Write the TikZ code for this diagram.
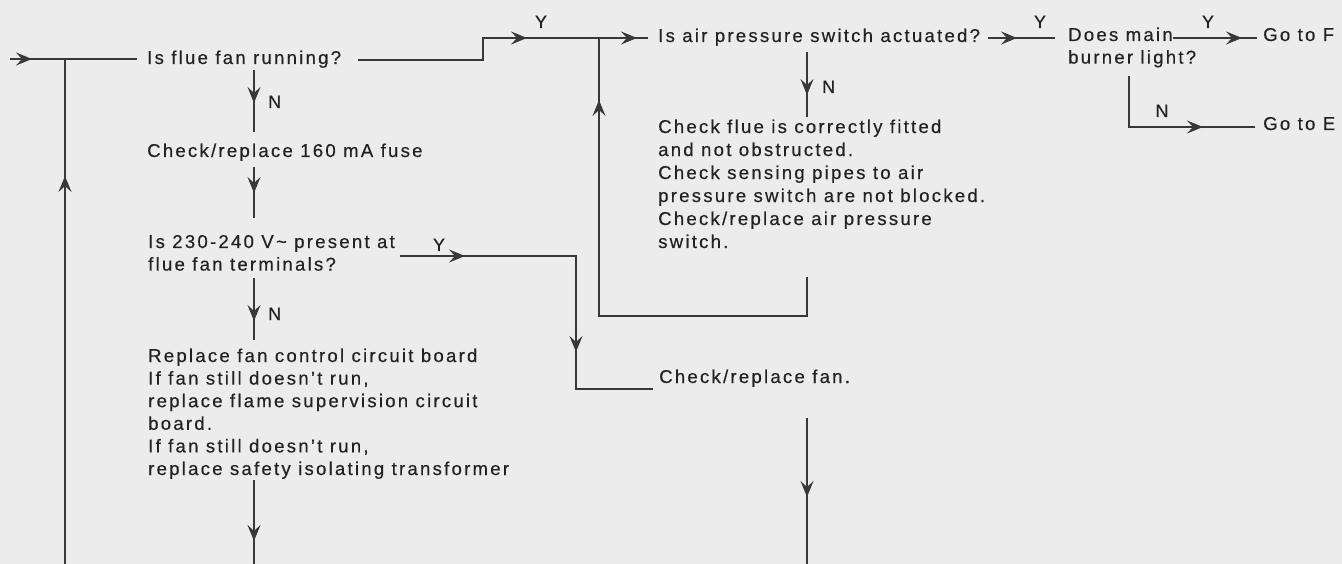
\documentclass[tikz,border=0pt]{standalone}
\usepackage{fontspec}
\setmainfont{Liberation Sans}[LetterSpace=12,FakeBold=0.4]
\usetikzlibrary{arrows.meta,decorations.markings}
\definecolor{paper}{HTML}{ECECEC}
\definecolor{ink}{HTML}{222222}
\definecolor{wirec}{HTML}{383838}
\tikzset{
  txt/.style={inner sep=0pt, anchor=base west, align=left, text=ink,
    font=\fontsize{18.6}{22.6}\selectfont},
  lbl/.style={inner sep=0pt, anchor=base, text=ink, font=\fontsize{18}{20}\selectfont},
  wire/.style={draw=wirec, line width=1.4pt},
  arr/.style={postaction={decorate, decoration={markings,
      mark=at position #1 with {\arrow{Stealth[length=16pt,width=13pt,inset=6pt]}}}}},
}
\begin{document}
\begin{tikzpicture}[x=1pt,y=-1pt]
\fill[paper] (0,0) rectangle (1342,564);
\useasboundingbox (0,0) rectangle (1342,564);

% text nodes (base anchor = baseline of the last line)
\node[txt] (q1) at (147,64) {Is flue fan running?};
\node[txt] (a1) at (147,157) {Check/replace 160 mA fuse};
\node[txt] (q2) at (148,270.6) {Is 230-240 V\textasciitilde\ present at\\flue fan terminals?};
\node[txt] (a2) at (148,475) {Replace fan control circuit board\\If fan still doesn't run,\\replace flame supervision circuit\\board.\\If fan still doesn't run,\\replace safety isolating transformer};
\node[txt] (q3) at (658,42) {Is air pressure switch actuated?};
\node[txt, font=\fontsize{18.6}{23}\selectfont] (a3) at (658,248) {Check flue is correctly fitted\\and not obstructed.\\Check sensing pipes to air\\pressure switch are not blocked.\\Check/replace air pressure\\switch.};
\node[txt] (a4) at (659,383) {Check/replace fan.};
\node[txt] (q4) at (1068,63.6) {Does main\\burner light?};
\node[txt] (gF) at (1263,41) {Go to F};
\node[txt] (gE) at (1263,130) {Go to E};

% labels
\node[lbl] (y1) at (541,28) {Y};
\node[lbl] (y2) at (1040,28) {Y};
\node[lbl] (y3) at (1208,28) {Y};
\node[lbl] (y4) at (439,251) {Y};
\node[lbl, anchor=base west] (n1) at (268,108) {N};
\node[lbl, anchor=base west] (n2) at (268,320) {N};
\node[lbl, anchor=base west] (n3) at (822,93) {N};
\node[lbl] (n4) at (1162,117) {N};

% coordinates
\coordinate (in0) at (10,59);
\coordinate (q1w) at (137,59);
\coordinate (jL) at (65,59);
\coordinate (bL) at (65,564);
\coordinate (q1e) at (358,60);
\coordinate (s1) at (483,60);
\coordinate (s2) at (483,38);
\coordinate (q3w) at (648,38);
\coordinate (jT) at (599,38);
\coordinate (l1) at (599,316);
\coordinate (l2) at (807,316);
\coordinate (a3b) at (807,277);
\coordinate (q3s) at (807,52);
\coordinate (a3t) at (807,117);
\coordinate (q3e) at (988,38);
\coordinate (q4w) at (1055,38);
\coordinate (q4e) at (1173,38);
\coordinate (gFw) at (1257,38);
\coordinate (q4s) at (1129,76);
\coordinate (c1) at (1129,127);
\coordinate (gEw) at (1255,127);
\coordinate (q1s) at (254,70);
\coordinate (a1t) at (254,132);
\coordinate (a1s) at (254,167);
\coordinate (q2t) at (254,218);
\coordinate (q2s) at (254,278);
\coordinate (a2t) at (254,340);
\coordinate (a2s) at (254,480);
\coordinate (b2) at (254,564);
\coordinate (q2e) at (400,256);
\coordinate (c2) at (576,256);
\coordinate (c3) at (576,389);
\coordinate (a4w) at (653,389);
\coordinate (t1) at (807,418);
\coordinate (b3) at (807,564);

% connectors
\draw[wire, arr=22pt] (in0) -- (q1w);
\draw[wire, arr=388pt] (bL) -- (jL);
\draw[wire, arr=191pt, arr=301pt] (q1e) -- (s1) -- (s2) -- (q3w);
\draw[wire, arr=463pt] (a3b) -- (l2) -- (l1) -- (jT);
\draw[wire, arr=43pt] (q3s) -- (a3t);
\draw[wire, arr=29pt] (q3e) -- (q4w);
\draw[wire, arr=69pt] (q4e) -- (gFw);
\draw[wire, arr=125pt] (q4s) -- (c1) -- (gEw);
\draw[wire, arr=33pt] (q1s) -- (a1t);
\draw[wire, arr=26pt] (a1s) -- (q2t);
\draw[wire, arr=43pt] (q2s) -- (a2t);
\draw[wire, arr=61pt] (a2s) -- (b2);
\draw[wire, arr=65pt, arr=272pt] (q2e) -- (c2) -- (c3) -- (a4w);
\draw[wire, arr=79pt] (t1) -- (b3);
\end{tikzpicture}
\end{document}
